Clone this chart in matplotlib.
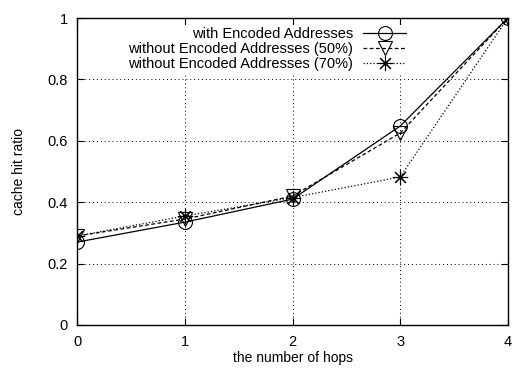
import numpy as np
import matplotlib
matplotlib.use('Agg')
import matplotlib.pyplot as plt

plt.rcParams['font.family'] = ['Liberation Sans', 'DejaVu Sans']
plt.rcParams['font.size'] = 10

#data
hops = [0, 1, 2, 3, 4]
encoded = [0.27, 0.335, 0.41, 0.648, 1.0]
plain50 = [0.29, 0.345, 0.42, 0.625, 1.0]
plain70 = [0.29, 0.355, 0.415, 0.482, 1.0]
labels = ['with Encoded Addresses',
          'without Encoded Addresses (50%)',
          'without Encoded Addresses (70%)']

fig = plt.figure(figsize=(5.15, 3.68), dpi=100)
ax = fig.add_axes([0.150, 0.117, 0.836, 0.834])

ax.plot(hops, encoded, '-', color='black', lw=0.9, marker='o', ms=10,
        mfc='none', mec='black', mew=0.8, label=labels[0])
ax.plot(hops, plain50, '--', color='black', lw=0.9, marker='v', ms=10,
        mfc='none', mec='black', mew=0.8, dashes=(3, 2), label=labels[1])
ax.plot(hops, plain70, ':', color='black', lw=0.9, marker=(8, 2, 0), ms=11,
        mec='black', mew=0.8, label=labels[2])

ax.set_xlim(0, 4)
ax.set_ylim(0, 1)
ax.set_xticks([0, 1, 2, 3, 4])
ax.set_yticks([0, 0.2, 0.4, 0.6, 0.8, 1.0])
ax.set_yticklabels(['0', '0.2', '0.4', '0.6', '0.8', '1'])
ax.tick_params(direction='in', top=True, right=True, length=5, width=0.8,
               pad=7, labelsize=10.5)
ax.grid(True, linestyle=(0, (1, 3)), color='black', lw=0.7)
for s in ax.spines.values():
    s.set_linewidth(1.0)
    s.set_zorder(6)

ax.set_xlabel('the number of hops', labelpad=2)
ax.set_ylabel('cache hit ratio', labelpad=15)

# white box behind the key hides the grid there, like gnuplot
leg = ax.legend(loc='upper right', bbox_to_anchor=(0.768, 0.977),
                markerfirst=False, frameon=True, fancybox=False,
                facecolor='white', edgecolor='none', framealpha=1,
                handlelength=2.9, labelspacing=0.05, borderaxespad=0.0,
                borderpad=0.15, handletextpad=0.7, fontsize=10.5)

plt.savefig('out.png', dpi=100)
